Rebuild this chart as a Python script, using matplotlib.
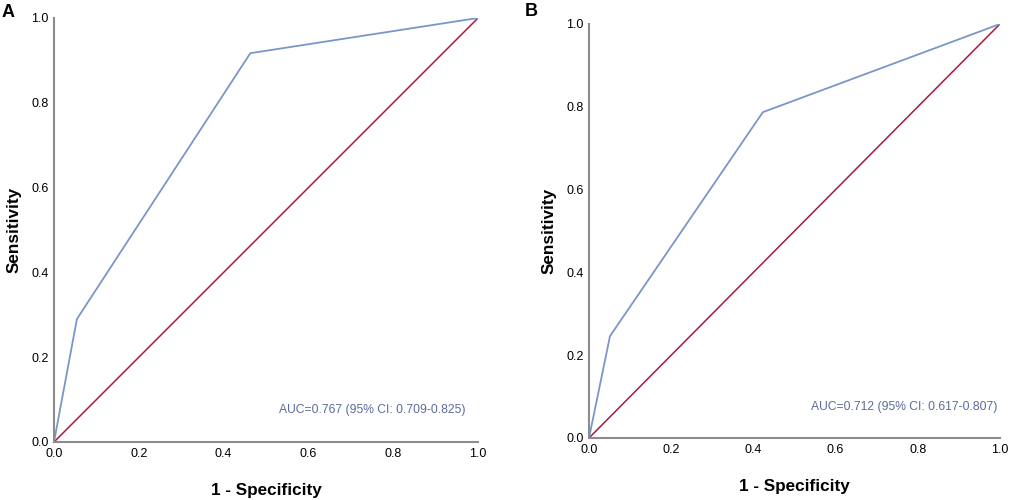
import matplotlib
matplotlib.use('Agg')
import matplotlib.pyplot as plt

plt.rcParams['font.family'] = ['Liberation Sans', 'DejaVu Sans']

# ROC points (1 - specificity, sensitivity)
fpr_a = [0.0, 0.054, 0.463, 1.0]
tpr_a = [0.0, 0.29, 0.917, 1.0]
fpr_b = [0.0, 0.051, 0.423, 1.0]
tpr_b = [0.0, 0.246, 0.787, 1.0]
auc_a = "AUC=0.767 (95% CI: 0.709-0.825)"
auc_b = "AUC=0.712 (95% CI: 0.617-0.807)"
ticks = [0.0, 0.2, 0.4, 0.6, 0.8, 1.0]

fig = plt.figure(figsize=(10.21, 5.0), dpi=100)
ax_a = fig.add_axes([0.0529, 0.116, 0.4153, 0.848])
ax_b = fig.add_axes([0.5769, 0.124, 0.4025, 0.828])


def roc_panel(ax, fpr, tpr, txt, txt_x):
    ax.plot([0, 1], [0, 1], color='#a8193f', lw=1.1)
    ax.plot(fpr, tpr, color='#7a96c8', lw=1.3)
    ax.set_xlim(0, 1)
    ax.set_ylim(0, 1)
    ax.set_xticks(ticks)
    ax.set_yticks(ticks)
    ax.set_xticklabels(['%.1f' % t for t in ticks], fontsize=9)
    ax.set_yticklabels(['%.1f' % t for t in ticks], fontsize=9)
    ax.tick_params(length=0, pad=4)
    for s in ['top', 'right']:
        ax.spines[s].set_visible(False)
    for s in ['left', 'bottom']:
        ax.spines[s].set_color('#8c8c8c')
        ax.spines[s].set_linewidth(1.5)
    ax.set_xlabel('1 - Specificity', fontsize=12.3, fontweight='bold', labelpad=17)
    ax.set_ylabel('Sensitivity', fontsize=12.3, fontweight='bold', labelpad=7)
    ax.text(txt_x, 0.075, txt, color='#5a6c9c', fontsize=8.7,
            ha='right', va='center')


roc_panel(ax_a, fpr_a, tpr_a, auc_a, 0.97)
roc_panel(ax_b, fpr_b, tpr_b, auc_b, 0.993)

fig.text(0.002, 0.975, 'A', fontsize=13, fontweight='bold', va='center')
fig.text(0.514, 0.976, 'B', fontsize=13, fontweight='bold', va='center')

plt.savefig('out.png', dpi=100)
